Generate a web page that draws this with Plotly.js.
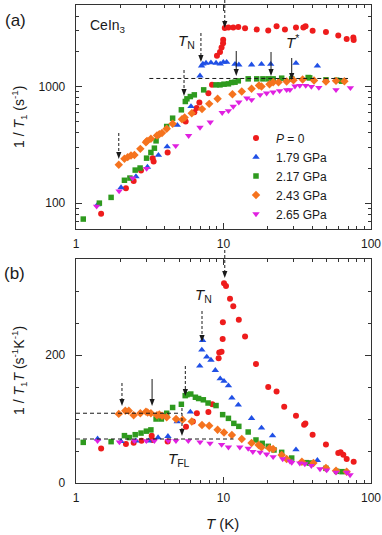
<!DOCTYPE html>
<html>
<head>
<meta charset="utf-8">
<script src="https://cdn.plot.ly/plotly-3.0.1.min.js"></script>
<style>
  html, body { margin: 0; padding: 0; background: #fff; }
  #chart { width: 382px; height: 535px; }
</style>
</head>
<body>
<div id="chart"></div>
<script>
// ---- data ----
// (a) 1/T1 (s^-1) vs T (K)
const T_p0_a = [1.48, 2.18, 2.46, 2.76, 3.31, 3.36, 4.18, 5.54, 6.34, 6.58, 6.86, 7.9, 8.36, 9.03, 9.47, 9.7, 9.93, 9.95, 10.2, 10.8, 11.65, 12.6, 14.0, 16.8, 20.1, 22.9, 26.1, 31.0, 34.8, 36.0, 40.2, 49.5, 60.0, 68.4, 75.9, 76.3];
const R_p0_a = [81, 134, 155, 190, 243, 228, 272, 500, 603, 653, 729, 877, 1033, 1834, 1973, 2160, 2355, 2512, 3170, 3210, 3210, 3240, 3160, 3080, 3020, 3290, 3080, 3210, 3210, 3290, 3000, 2930, 2740, 2550, 2630, 2510];

const T_179_a = [1.4, 2.02, 2.55, 3.05, 3.62, 4.15, 4.86, 6.02, 6.93, 7.1, 7.25, 7.61, 8.22, 8.9, 9.5, 9.97, 10.5, 11.97, 12.7, 15.5, 18.1, 20.9, 31.0, 43.3];
const R_179_a = [97, 136, 169, 204, 258, 305, 466, 674, 1234, 1500, 1560, 1590, 1600, 1590, 1560, 1617, 1617, 1553, 1534, 1534, 1553, 1553, 1585, 1503];

const T_217_a = [1.12, 1.44, 1.73, 2.13, 2.32, 2.52, 2.72, 3.01, 3.22, 3.4, 3.49, 4.12, 4.52, 5.18, 5.51, 5.65, 5.96, 6.34, 7.34, 8.9, 9.47, 10.08, 10.8, 11.35, 11.97, 12.6, 14.7, 16.8, 18.5, 20.1, 21.7, 24.8, 29.0, 37.5, 38.4, 49.5, 58.5, 63.2];
const R_217_a = [73, 100, 112, 157, 164, 192, 200, 243, 272, 296, 342, 454, 535, 631, 744, 784, 820, 848, 936, 1033, 1033, 1047, 1054, 1082, 1089, 1118, 1163, 1163, 1163, 1163, 1163, 1179, 1163, 1194, 1186, 1141, 1133, 1111];

const T_243_a = [1.95, 2.13, 2.24, 2.36, 2.49, 2.73, 2.98, 3.03, 3.22, 3.54, 3.67, 3.83, 4.12, 4.52, 5.23, 5.45, 6.09, 7.15, 8.0, 9.12, 11.5, 13.3, 15.5, 17.4, 18.1, 20.5, 21.7, 23.6, 26.8, 29.8, 34.4, 41.1, 49.5, 57.9, 66];
const R_243_a = [213, 240, 248, 256, 259, 292, 333, 341, 356, 380, 390, 400, 434, 479, 525, 542, 591, 640, 710, 784, 860, 906, 955, 1020, 1000, 1047, 1089, 1089, 1104, 1133, 1148, 1126, 1104, 1118, 1110];

const T_265_a = [1.38, 1.96, 2.42, 3.01, 4.74, 5.8, 6.93, 8.13, 9.8, 10.8, 11.65, 12.7, 14.4, 15.5, 17.7, 19.6, 21.7, 24.0, 26.8, 28.2, 30.5, 32.9, 36.1, 39.4, 44.3, 57.9, 72.5];
const R_265_a = [94, 127, 164, 198, 310, 379, 446, 494, 597, 619, 674, 734, 794, 769, 848, 877, 894, 918, 936, 936, 1007, 1020, 1020, 1000, 980, 936, 974];

// (b) 1/T1T (s^-1 K^-1) vs T (K)
const T_p0_b = [1.48, 2.18, 2.46, 2.78, 3.26, 3.3, 4.18, 5.57, 6.2, 6.6, 7.9, 8.4, 9.27, 9.36, 9.7, 9.87, 9.9, 10.08, 10.4, 11.07, 11.65, 12.7, 14.0, 16.6, 20.1, 22.9, 25.8, 31.0, 35.2, 35.9, 40.2, 49.5, 60.0, 62.2, 64.9, 68.4, 76.3];
const R_p0_b = [54, 61, 63, 66, 74, 67, 65, 88, 96, 109, 111, 123, 195, 204, 205, 225, 251, 312, 308, 288, 276, 255, 229, 186, 150, 143, 119, 105, 91, 93, 75.5, 60, 47, 48, 44, 37.5, 33.3];

const T_179_b = [1.4, 2.02, 2.55, 3.1, 3.6, 4.2, 4.86, 5.96, 6.9, 7.13, 7.22, 7.7, 8.22, 8.8, 9.5, 10.08, 10.8, 11.4, 12.6, 15.5, 18.1, 21.5, 31.0, 43.3];
const R_179_b = [69, 65, 66, 66, 71, 73, 96, 111, 183, 208, 223, 197, 192, 176, 163, 159, 152, 133, 122, 101, 86, 74, 52, 35.4];

const T_217_b = [1.12, 1.73, 2.13, 2.3, 2.52, 2.76, 3.0, 3.22, 3.49, 3.79, 4.12, 4.52, 5.18, 5.5, 5.65, 6.0, 6.45, 6.78, 7.3, 7.86, 8.9, 9.87, 10.8, 11.75, 12.7, 14.7, 16.6, 18.3, 20.1, 22.0, 24.8, 29.0, 36.5, 38.4, 49.5, 58.5, 63.7];
const R_217_b = [63.5, 64.6, 74, 71, 75.5, 78, 81, 83, 100, 100, 109, 118, 123, 136.5, 138, 139, 134, 132, 130, 125, 121, 106.8, 101, 93.2, 88.5, 79.7, 67.2, 62, 57.3, 51.6, 47.9, 39, 31.8, 31.3, 22.9, 18.2, 17.7];

const T_243_b = [1.95, 2.16, 2.28, 2.46, 2.73, 2.98, 3.06, 3.22, 3.54, 3.67, 3.83, 4.12, 4.77, 5.28, 6.09, 7.15, 8.0, 9.12, 10.08, 11.4, 13.3, 15.5, 17.3, 18.1, 20.5, 21.7, 24.8, 26.8, 34.0, 40.7, 49.5, 57.9, 68.4];
const R_243_b = [108, 113, 113, 106, 109, 111.5, 110, 109, 106, 107, 105, 102.6, 100, 99, 96, 90.6, 89.6, 83.3, 79, 75, 68.75, 62.5, 59.4, 55.7, 54.2, 53.1, 43.75, 37.5, 33.3, 31.25, 23.4, 19.3, 17.7];

const T_265_b = [1.40, 1.97, 2.49, 3.0, 3.4, 4.22, 4.76, 5.77, 6.93, 8.1, 9.71, 10.8, 12.9, 14.7, 15.8, 17.7, 19.6, 21.7, 25.2, 28.2, 29.0, 32.9, 35.6, 39.4, 45.1, 50.1, 57.9, 68.4, 72.1];
const R_265_b = [66, 64, 66, 66, 66, 66, 66, 66, 64, 62, 60, 56, 56, 54, 49, 48, 45, 41, 37.5, 34, 32, 31, 29.7, 27, 22, 20.3, 16.7, 16.7, 12.5];

const seriesNames = ['<i>P</i> = 0', '1.79 GPa', '2.17 GPa', '2.43 GPa', '2.65 GPa'];
const colors = ['#ee1c1c', '#2050e6', '#2e9a1e', '#f5731e', '#e020e0'];
const symbols = ['circle', 'triangle-up', 'square', 'diamond', 'triangle-down'];
const sizes = [6, 6.5, 5.5, 6.5, 6.5];

const panelA = [[T_p0_a, R_p0_a], [T_179_a, R_179_a], [T_217_a, R_217_a], [T_243_a, R_243_a], [T_265_a, R_265_a]];
const panelB = [[T_p0_b, R_p0_b], [T_179_b, R_179_b], [T_217_b, R_217_b], [T_243_b, R_243_b], [T_265_b, R_265_b]];

const traces = [];
panelA.forEach(([x, y], i) => {
  traces.push({
    type: 'scatter', mode: 'markers', x: x, y: y, xaxis: 'x', yaxis: 'y',
    name: seriesNames[i], legendgroup: 'g' + i,
    marker: { color: colors[i], symbol: symbols[i], size: sizes[i], line: { width: 0 } }
  });
});
panelB.forEach(([x, y], i) => {
  traces.push({
    type: 'scatter', mode: 'markers', x: x, y: y, xaxis: 'x2', yaxis: 'y2',
    name: seriesNames[i], legendgroup: 'g' + i, showlegend: false,
    marker: { color: colors[i], symbol: symbols[i], size: sizes[i], line: { width: 0 } }
  });
});

// ---- geometry helpers (page pixels -> paper) ----
const W = 382, H = 535, M = { l: 76, r: 11, t: 5, b: 52 };
const plotW = W - M.l - M.r, plotH = H - M.t - M.b;
const py = p => (H - M.b - p) / plotH;       // pixel row -> paper y
const px = p => (p - M.l) / plotW;           // pixel column -> paper x
const tx = T => Math.log10(T) / 2;           // temperature -> paper x (log axis 1..100 spans the width)

const FONT = 'Liberation Sans, Arial, sans-serif';
const INK = '#1a1a1a';

const shapes = [];
const annotations = [];

// vertical arrow at temperature T; tail/tip in page rows
function arrow(T, tail, tip, dashed) {
  const x = tx(T), hw = 2.6 / plotW, hl = 7;
  shapes.push({ type: 'line', xref: 'paper', yref: 'paper', x0: x, x1: x, y0: py(tail), y1: py(tip - hl + 1),
    line: { color: INK, width: 1, dash: dashed ? '3px,2px' : 'solid' } });
  shapes.push({ type: 'path', xref: 'paper', yref: 'paper',
    path: `M ${x - hw} ${py(tip - hl)} L ${x + hw} ${py(tip - hl)} L ${x} ${py(tip)} Z`,
    fillcolor: INK, line: { width: 0 } });
}
function hdash(xa, ya, T0, T1, v) {
  shapes.push({ type: 'line', xref: xa, yref: ya, x0: T0, x1: T1, y0: v, y1: v,
    line: { color: INK, width: 1, dash: '4px,3px' } });
}
function label(text, xp, yp, size, extra) {
  annotations.push(Object.assign({ xref: 'paper', yref: 'paper', x: px(xp), y: py(yp), text: text,
    showarrow: false, xanchor: 'center', yanchor: 'middle', font: { family: FONT, size: size, color: INK } }, extra || {}));
}

// panel (a)
arrow(10.2, 0, 28, true);
arrow(7.03, 33, 62, true);
arrow(12.2, 51, 76, false);
arrow(21.0, 52, 76, false);
arrow(29.0, 58, 80, false);
arrow(5.4, 70, 96, true);
arrow(1.95, 133, 159, true);
hdash('x', 'y', 3.14, 69.8, 1172);

// panel (b)
arrow(10.2, 250, 278, true);
arrow(7.15, 311, 342, true);
arrow(5.51, 366, 396, true);
arrow(2.05, 383, 406, true);
arrow(3.28, 379, 406, false);
arrow(5.23, 408, 436, true);
hdash('x2', 'y2', 1, 5.23, 109);
hdash('x2', 'y2', 1, 11.7, 68.75);

// text
label('(a)', 15, 20, 17);
label('(b)', 14, 273, 17);
label('CeIn<sub>3</sub>', 108, 26, 14);
label('<i>T</i><sub>N</sub>', 186, 42, 15);
label('<i>T</i><sup>*</sup>', 292, 42, 15);
label('<i>T</i><sub>N</sub>', 203, 295, 15);
label('<i>T</i><sub>FL</sub>', 179, 459, 15);
label('1 / <i>T</i><sub>1</sub> (s<sup>-1</sup>)', 19, 117, 14, { textangle: -90 });
label('1 / <i>T</i><sub>1</sub><i>T</i> (s<sup>-1</sup>K<sup>-1</sup>)', 19, 371, 14, { textangle: -90 });
label('<i>T</i> (K)', 222, 523, 15);

const axisBase = {
  showline: true, linecolor: '#333', linewidth: 1.3, mirror: 'ticks',
  ticks: 'inside', ticklen: 6, tickwidth: 1, tickcolor: '#333',
  showgrid: false, zeroline: false,
  tickfont: { family: FONT, size: 12, color: INK }
};
const xLog = Object.assign({}, axisBase, {
  type: 'log', range: [0, 2], dtick: 1, ticklabelstandoff: 3,
  minor: { ticks: 'inside', ticklen: 3, dtick: 'D1', tickcolor: '#333', showgrid: false }
});

const layout = {
  width: W, height: H,
  margin: M,
  paper_bgcolor: '#fff', plot_bgcolor: '#fff',
  font: { family: FONT, color: INK },
  showlegend: true,
  legend: {
    x: px(236), xanchor: 'left', y: py(176), yanchor: 'middle',
    bgcolor: 'rgba(0,0,0,0)', borderwidth: 0, itemwidth: 30,
    font: { family: FONT, size: 12, color: INK }, tracegroupgap: 0
  },
  xaxis: Object.assign({}, xLog, { anchor: 'y', domain: [0, 1] }),
  xaxis2: Object.assign({}, xLog, { anchor: 'y2', domain: [0, 1] }),
  yaxis: Object.assign({}, axisBase, {
    type: 'log', anchor: 'x', domain: [py(229), 1],
    range: [Math.log10(60), Math.log10(5000)], dtick: 1, exponentformat: 'none',
    ticklabelstandoff: 7,
    minor: { ticks: 'inside', ticklen: 3, dtick: 'D1', tickcolor: '#333', showgrid: false }
  }),
  yaxis2: Object.assign({}, axisBase, {
    anchor: 'x2', domain: [0, py(259)],
    range: [0, 350], dtick: 200, ticklabelstandoff: 7,
    minor: { ticks: 'inside', ticklen: 3, dtick: 50, tickcolor: '#333', showgrid: false }
  }),
  shapes: shapes,
  annotations: annotations
};

Plotly.newPlot('chart', traces, layout, { displayModeBar: false, staticPlot: true });
</script>
</body>
</html>
